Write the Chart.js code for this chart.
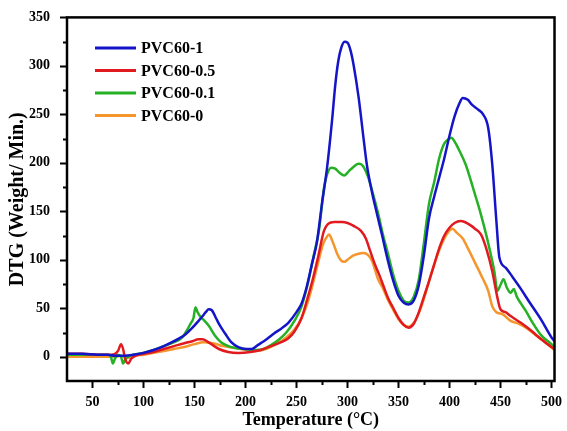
<!DOCTYPE html>
<html>
<head>
<meta charset="utf-8">
<script src="https://cdn.jsdelivr.net/npm/chart.js@4.4.1/dist/chart.umd.min.js"></script>
<style>
  html, body { margin: 0; padding: 0; background: #fff; }
  #wrap { width: 567px; height: 431px; }
</style>
</head>
<body>
<div id="wrap"><canvas id="dtgChart"></canvas></div>
<script>
// DTG curves (temperature in °C, DTG in weight/min)
const seriesNames = ['PVC60-1', 'PVC60-0.5', 'PVC60-0.1', 'PVC60-0'];
const seriesColors = ['#1414c8', '#e01a1f', '#25b025', '#f5962d'];

const blueT = [25,40,55,65,72,80,90,100,110,120,128,135,141,148,154,158,161,164,167,171,175,180,186,193,200,206,212,218,222,228,235,242,250,255,260,265,270,275,280,285,288,291,294,297,300,303,306,311,315,319,324,329,334,339,345,350,355,360,365,370,375,380,385,390,395,400,405,410,413,418,422,428,433,438,442,446,449,455,462,470,478,490,500,503];
const blueV = [3,3,2,2,1,1,2,4,7,11,15,19,23,30,37,42,46,49,48,40,32,24,15,10,8,8,12,16,19,24,29,35,46,55,72,95,118,158,195,245,280,305,319,325,324,316,301,267,232,198,170,147,125,102,78,63,56,54,58,74,105,143,165,185,205,228,248,262,267,265,260,255,250,236,198,140,102,92,82,70,57,38,20,16];

const redT = [25,40,55,65,72,75,78,80,82,85,88,92,100,110,120,130,140,148,154,158,165,174,183,193,205,215,225,235,242,248,255,261,266,271,277,281,287,295,300,306,313,318,322,327,331,336,340,345,350,355,360,365,370,375,380,385,390,395,400,405,411,415,420,425,431,436,442,447,450,455,460,470,480,490,500,503];
const redV = [3,3,2,2,3,6,13,8,-2,-7,-2,1,3,5,8,11,14,16,18,18,14,8,5,4,5,7,11,15,19,26,40,61,80,102,130,137,139,139,138,135,130,122,110,95,85,71,60,50,40,33,30,34,46,62,78,95,112,125,133,138,140,139,136,132,126,112,88,61,49,46,42,35,27,18,10,8];

const greenT = [25,40,55,65,68,70,72,75,78,80,82,85,90,100,110,120,130,138,143,146,149,151,153,156,159,164,170,176,183,190,200,210,218,225,232,240,248,255,261,267,272,277,280,284,288,292,297,301,305,311,315,320,325,330,335,340,345,350,355,360,365,370,375,380,385,390,395,400,402,405,410,416,420,426,430,436,440,444,447,450,453,456,460,463,466,470,475,481,490,500,503];
const greenV = [2,2,2,2,0,-7,-2,2,0,-7,-3,0,2,4,7,11,15,20,28,34,40,51,46,41,38,32,22,15,11,9,8,7,8,12,17,25,37,52,75,105,130,174,188,195,194,190,187,191,195,199,197,186,168,148,125,105,84,68,58,56,62,80,118,158,180,205,220,225,226,222,212,198,185,164,150,126,108,88,68,74,80,72,66,70,62,55,47,36,22,13,10];

const orangeT = [25,40,55,65,72,78,82,86,90,100,110,120,130,140,150,159,168,178,190,200,210,220,230,240,248,255,261,266,271,276,280,282,285,290,294,297,300,305,310,316,320,324,330,335,340,345,350,355,360,365,370,375,380,385,390,395,400,403,407,413,418,426,432,438,442,446,452,460,468,475,485,495,503];
const orangeV = [0,0,0,0,0,1,0,-1,1,2,4,6,8,10,13,15,14,11,9,7,6,8,13,20,28,40,56,75,96,116,124,126,120,106,99,98,100,104,106,107,105,99,80,70,58,48,39,33,31,35,45,60,78,95,110,122,130,132,128,122,112,95,82,68,52,46,44,37,34,30,22,14,7];

const xTicks = [50,100,150,200,250,300,350,400,450,500];
const yTicks = [0,50,100,150,200,250,300,350];

const allT = [blueT, redT, greenT, orangeT];
const allV = [blueV, redV, greenV, orangeV];

const serif = '"Liberation Serif", "Times New Roman", serif';

// frame, outward ticks and the in-plot legend
const framePlugin = {
    id: 'frame',
    afterDraw(chart) {
        const ctx = chart.ctx;
        const a = chart.chartArea;
        const xs = chart.scales.x, ys = chart.scales.y;
        ctx.save();
        ctx.strokeStyle = '#000';
        ctx.lineWidth = 2.5;
        ctx.strokeRect(a.left, a.top, a.right - a.left, a.bottom - a.top);

        ctx.lineWidth = 2;
        ctx.beginPath();
        for (let v = 0; v <= 350; v += 25) {
            const y = Math.round(ys.getPixelForValue(v)) + 0.5;
            const len = v % 50 === 0 ? 7 : 4;
            ctx.moveTo(a.left, y);
            ctx.lineTo(a.left - len, y);
        }
        for (let t = 50; t <= 500; t += 25) {
            const x = Math.round(xs.getPixelForValue(t)) + 0.5;
            const len = t % 50 === 0 ? 7 : 4;
            ctx.moveTo(x, a.bottom);
            ctx.lineTo(x, a.bottom + len);
        }
        ctx.stroke();

        // legend
        ctx.font = 'bold 16px ' + serif;
        ctx.textBaseline = 'middle';
        ctx.textAlign = 'left';
        seriesNames.forEach((name, i) => {
            const y = 48 + i * 22.5;
            ctx.strokeStyle = seriesColors[i];
            ctx.lineWidth = 3;
            ctx.beginPath();
            ctx.moveTo(95, y);
            ctx.lineTo(136, y);
            ctx.stroke();
            ctx.fillStyle = '#000';
            ctx.fillText(name, 141, y + 1);
        });
        ctx.restore();
    }
};

const ctx = document.getElementById('dtgChart').getContext('2d');
new Chart(ctx, {
    type: 'line',
    data: {
        datasets: seriesNames.map((name, i) => ({
            label: name,
            data: allT[i].map((t, j) => ({ x: t, y: allV[i][j] })),
            borderColor: seriesColors[i],
            borderWidth: 2.5,
            pointRadius: 0,
            fill: false,
            cubicInterpolationMode: 'monotone'
        }))
    },
    options: {
        responsive: true,
        maintainAspectRatio: false,
        animation: false,
        layout: { padding: { top: 17, right: 8, left: 0, bottom: 0 } },
        plugins: {
            legend: { display: false },
            tooltip: { enabled: false }
        },
        scales: {
            x: {
                type: 'linear',
                min: 25,
                max: 503,
                afterBuildTicks: s => { s.ticks = xTicks.map(v => ({ value: v })); },
                afterFit: s => { s.height = 50; },
                grid: { display: false },
                border: { display: false },
                ticks: {
                    color: '#000',
                    padding: 5,
                    maxRotation: 0,
                    font: { family: serif, size: 14, weight: 'bold' }
                },
                title: {
                    display: true,
                    text: 'Temperature (°C)',
                    color: '#000',
                    padding: 0,
                    font: { family: serif, size: 18, weight: 'bold' }
                }
            },
            y: {
                min: -25,
                max: 350,
                afterBuildTicks: s => { s.ticks = yTicks.map(v => ({ value: v })); },
                afterFit: s => { s.width = 67; },
                grid: { display: false },
                border: { display: false },
                ticks: {
                    color: '#000',
                    padding: 9,
                    font: { family: serif, size: 14, weight: 'bold' }
                },
                title: {
                    display: true,
                    text: 'DTG (Weight/ Min.)',
                    color: '#000',
                    padding: { top: 6, bottom: 0 },
                    font: { family: serif, size: 20, weight: 'bold' }
                }
            }
        }
    },
    plugins: [framePlugin]
});
</script>
</body>
</html>
